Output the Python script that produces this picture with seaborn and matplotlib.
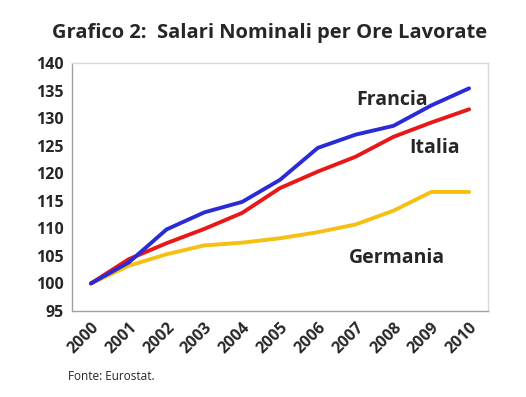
import matplotlib
matplotlib.use("Agg")
import matplotlib.pyplot as plt
import seaborn as sns
import pandas as pd

years = ["2000", "2001", "2002", "2003", "2004", "2005", "2006", "2007", "2008", "2009", "2010"]
francia = [100, 103.8, 109.8, 112.9, 114.8, 118.8, 124.6, 127.0, 128.6, 132.3, 135.4]
italia = [100, 104.4, 107.3, 109.9, 112.8, 117.3, 120.3, 123.0, 126.6, 129.2, 131.6]
germania = [100, 103.2, 105.3, 106.9, 107.4, 108.2, 109.3, 110.7, 113.2, 116.6, 116.6]
yticks = [95, 100, 105, 110, 115, 120, 125, 130, 135, 140]

sns.set_theme(style="white")
plt.rcParams['font.family'] = ['Open Sans', 'DejaVu Sans']

df = pd.DataFrame({
    "x": list(range(len(years))) * 3,
    "v": francia + italia + germania,
    "s": ["Francia"] * 11 + ["Italia"] * 11 + ["Germania"] * 11,
})

fig = plt.figure(figsize=(5.26, 3.97), dpi=100)
ax = fig.add_axes([72/526, 1-311/397, 416/526, 248/397])
palette = {"Francia": "#2B2BD6", "Italia": "#E81818", "Germania": "#F6C012"}
sns.lineplot(data=df, x="x", y="v", hue="s", palette=palette, linewidth=2.8,
             ax=ax, legend=False, hue_order=["Germania", "Italia", "Francia"])

ax.set_xlim(-0.5, len(years) - 0.5)
ax.set_ylim(95, 140)
ax.set_yticks(yticks)
ax.set_yticklabels([str(t) for t in yticks], fontsize=11.5, fontweight="bold")
ax.set_xticks(range(len(years)))
ax.set_xticklabels(years, rotation=45, ha="right", rotation_mode="anchor",
                   fontsize=11.5, fontweight="bold")
ax.set_xticks([i - 0.5 for i in range(len(years) + 1)], minor=True)
ax.tick_params(axis="x", which="major", length=0, pad=6)
ax.tick_params(axis="x", which="minor", length=4, color="#A0A0A0", width=1, direction="out")
ax.tick_params(axis="y", length=4, color="#A0A0A0", width=1, direction="out", pad=2)
ax.set_xlabel("")
ax.set_ylabel("")
for side in ["left", "bottom"]:
    ax.spines[side].set_color("#A0A0A0")
    ax.spines[side].set_linewidth(1)
for side in ["top", "right"]:
    ax.spines[side].set_color("#D8D8D8")
    ax.spines[side].set_linewidth(1)

ax.text(7.95, 133.2, "Francia", fontsize=14, fontweight="bold", ha="center", va="center")
ax.text(9.1, 124.5, "Italia", fontsize=14, fontweight="bold", ha="center", va="center")
ax.text(8.1, 104.6, "Germania", fontsize=14, fontweight="bold", ha="center", va="center")

fig.text(270/526, 1-33/397, "Grafico 2:  Salari Nominali per Ore Lavorate",
         fontsize=14.5, fontweight="bold", ha="center", va="center")
fig.text(68/526, 1-377/397, "Fonte: Eurostat.", fontsize=8.5, ha="left", va="center")

fig.savefig("out.png", dpi=100)
